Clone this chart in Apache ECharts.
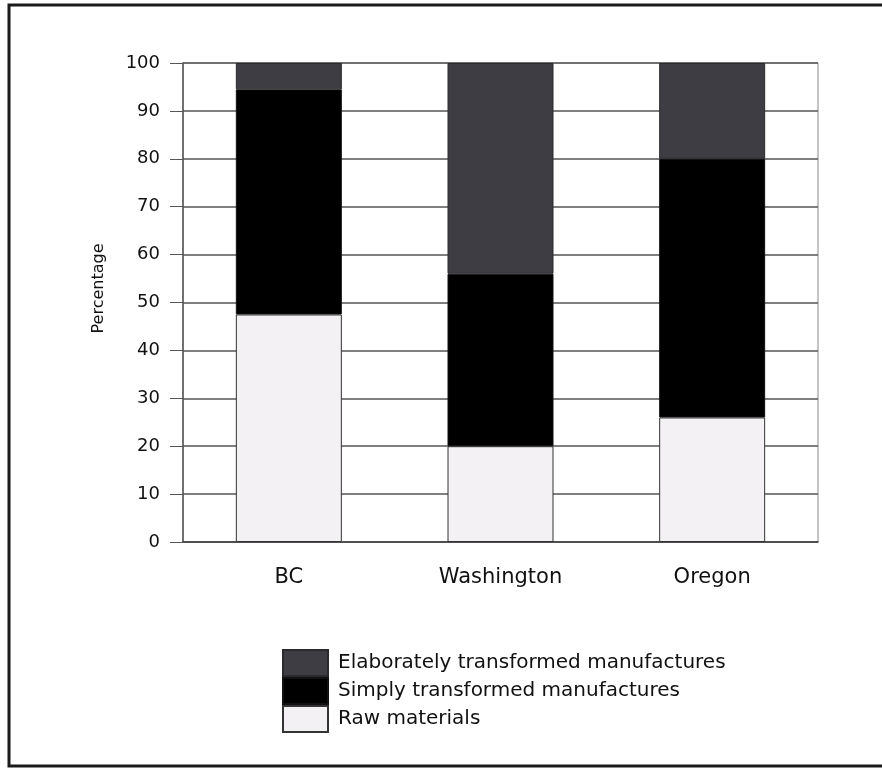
<!DOCTYPE html>
<html>
<head>
<meta charset="utf-8">
<script src="https://cdn.jsdelivr.net/npm/echarts@6/dist/echarts.min.js"></script>
<style>
html,body{margin:0;padding:0;background:#fff;}
#chart{width:882px;height:768px;}
</style>
</head>
<body>
<div id="chart"></div>
<script>
var regions = ['BC', 'Washington', 'Oregon'];
var rawMaterials = [47.5, 20, 26];
var simplyTransformed = [47, 36, 54];
var elaborateTransformed = [5.5, 44, 20];
var yTicks = [0, 10, 20, 30, 40, 50, 60, 70, 80, 90, 100];

var fontFam = '"DejaVu Sans", "Open Sans", sans-serif';

var chart = echarts.init(document.getElementById('chart'));
var option = {
	animation: false,
	backgroundColor: '#fff',
	graphic: [{
		type: 'rect',
		shape: {x: 9, y: 5, width: 900, height: 761},
		style: {fill: 'none', stroke: '#1a1a1a', lineWidth: 3}
	}],
	grid: {
		left: 183, right: 64, top: 63, bottom: 226,
		show: true, borderColor: '#888', borderWidth: 1
	},
	legend: {
		orient: 'vertical',
		left: 277, top: 644,
		itemWidth: 45, itemHeight: 26,
		itemGap: 0,
		icon: 'rect',
		textStyle: {fontFamily: fontFam, fontSize: 20, lineHeight: 22, height: 22, color: '#111', padding: [0, 0, 0, 5]},
		data: ['Elaborately transformed manufactures', 'Simply transformed manufactures', 'Raw materials']
	},
	xAxis: {
		type: 'category',
		data: regions,
		axisLine: {lineStyle: {color: '#444', width: 1.5}},
		axisTick: {length: 9, lineStyle: {color: '#555'}},
		axisLabel: {fontFamily: fontFam, fontSize: 21, color: '#111', margin: 25}
	},
	yAxis: {
		type: 'value',
		min: yTicks[0], max: yTicks[yTicks.length - 1], interval: 10,
		name: 'Percentage',
		nameLocation: 'middle',
		nameGap: 76,
		nameTextStyle: {fontFamily: fontFam, fontSize: 16, color: '#111', padding: [0, 0, 0, 28]},
		axisLine: {show: true, lineStyle: {color: '#555', width: 1.5}},
		axisTick: {show: true, length: 13, lineStyle: {color: '#555'}},
		axisLabel: {fontFamily: fontFam, fontSize: 18, color: '#111', margin: 23},
		splitLine: {lineStyle: {color: '#555', width: 1.5}}
	},
	series: [
		{
			name: 'Raw materials', type: 'bar', stack: 'total', barWidth: 106,
			data: rawMaterials,
			itemStyle: {color: '#f3f1f3', borderColor: '#333', borderWidth: 1}
		},
		{
			name: 'Simply transformed manufactures', type: 'bar', stack: 'total', barWidth: 106,
			data: simplyTransformed,
			itemStyle: {color: '#000', borderColor: '#111', borderWidth: 1}
		},
		{
			name: 'Elaborately transformed manufactures', type: 'bar', stack: 'total', barWidth: 106,
			data: elaborateTransformed,
			itemStyle: {color: '#3d3d43', borderColor: '#2a2a2e', borderWidth: 1}
		}
	]
};
chart.setOption(option);
</script>
</body>
</html>
